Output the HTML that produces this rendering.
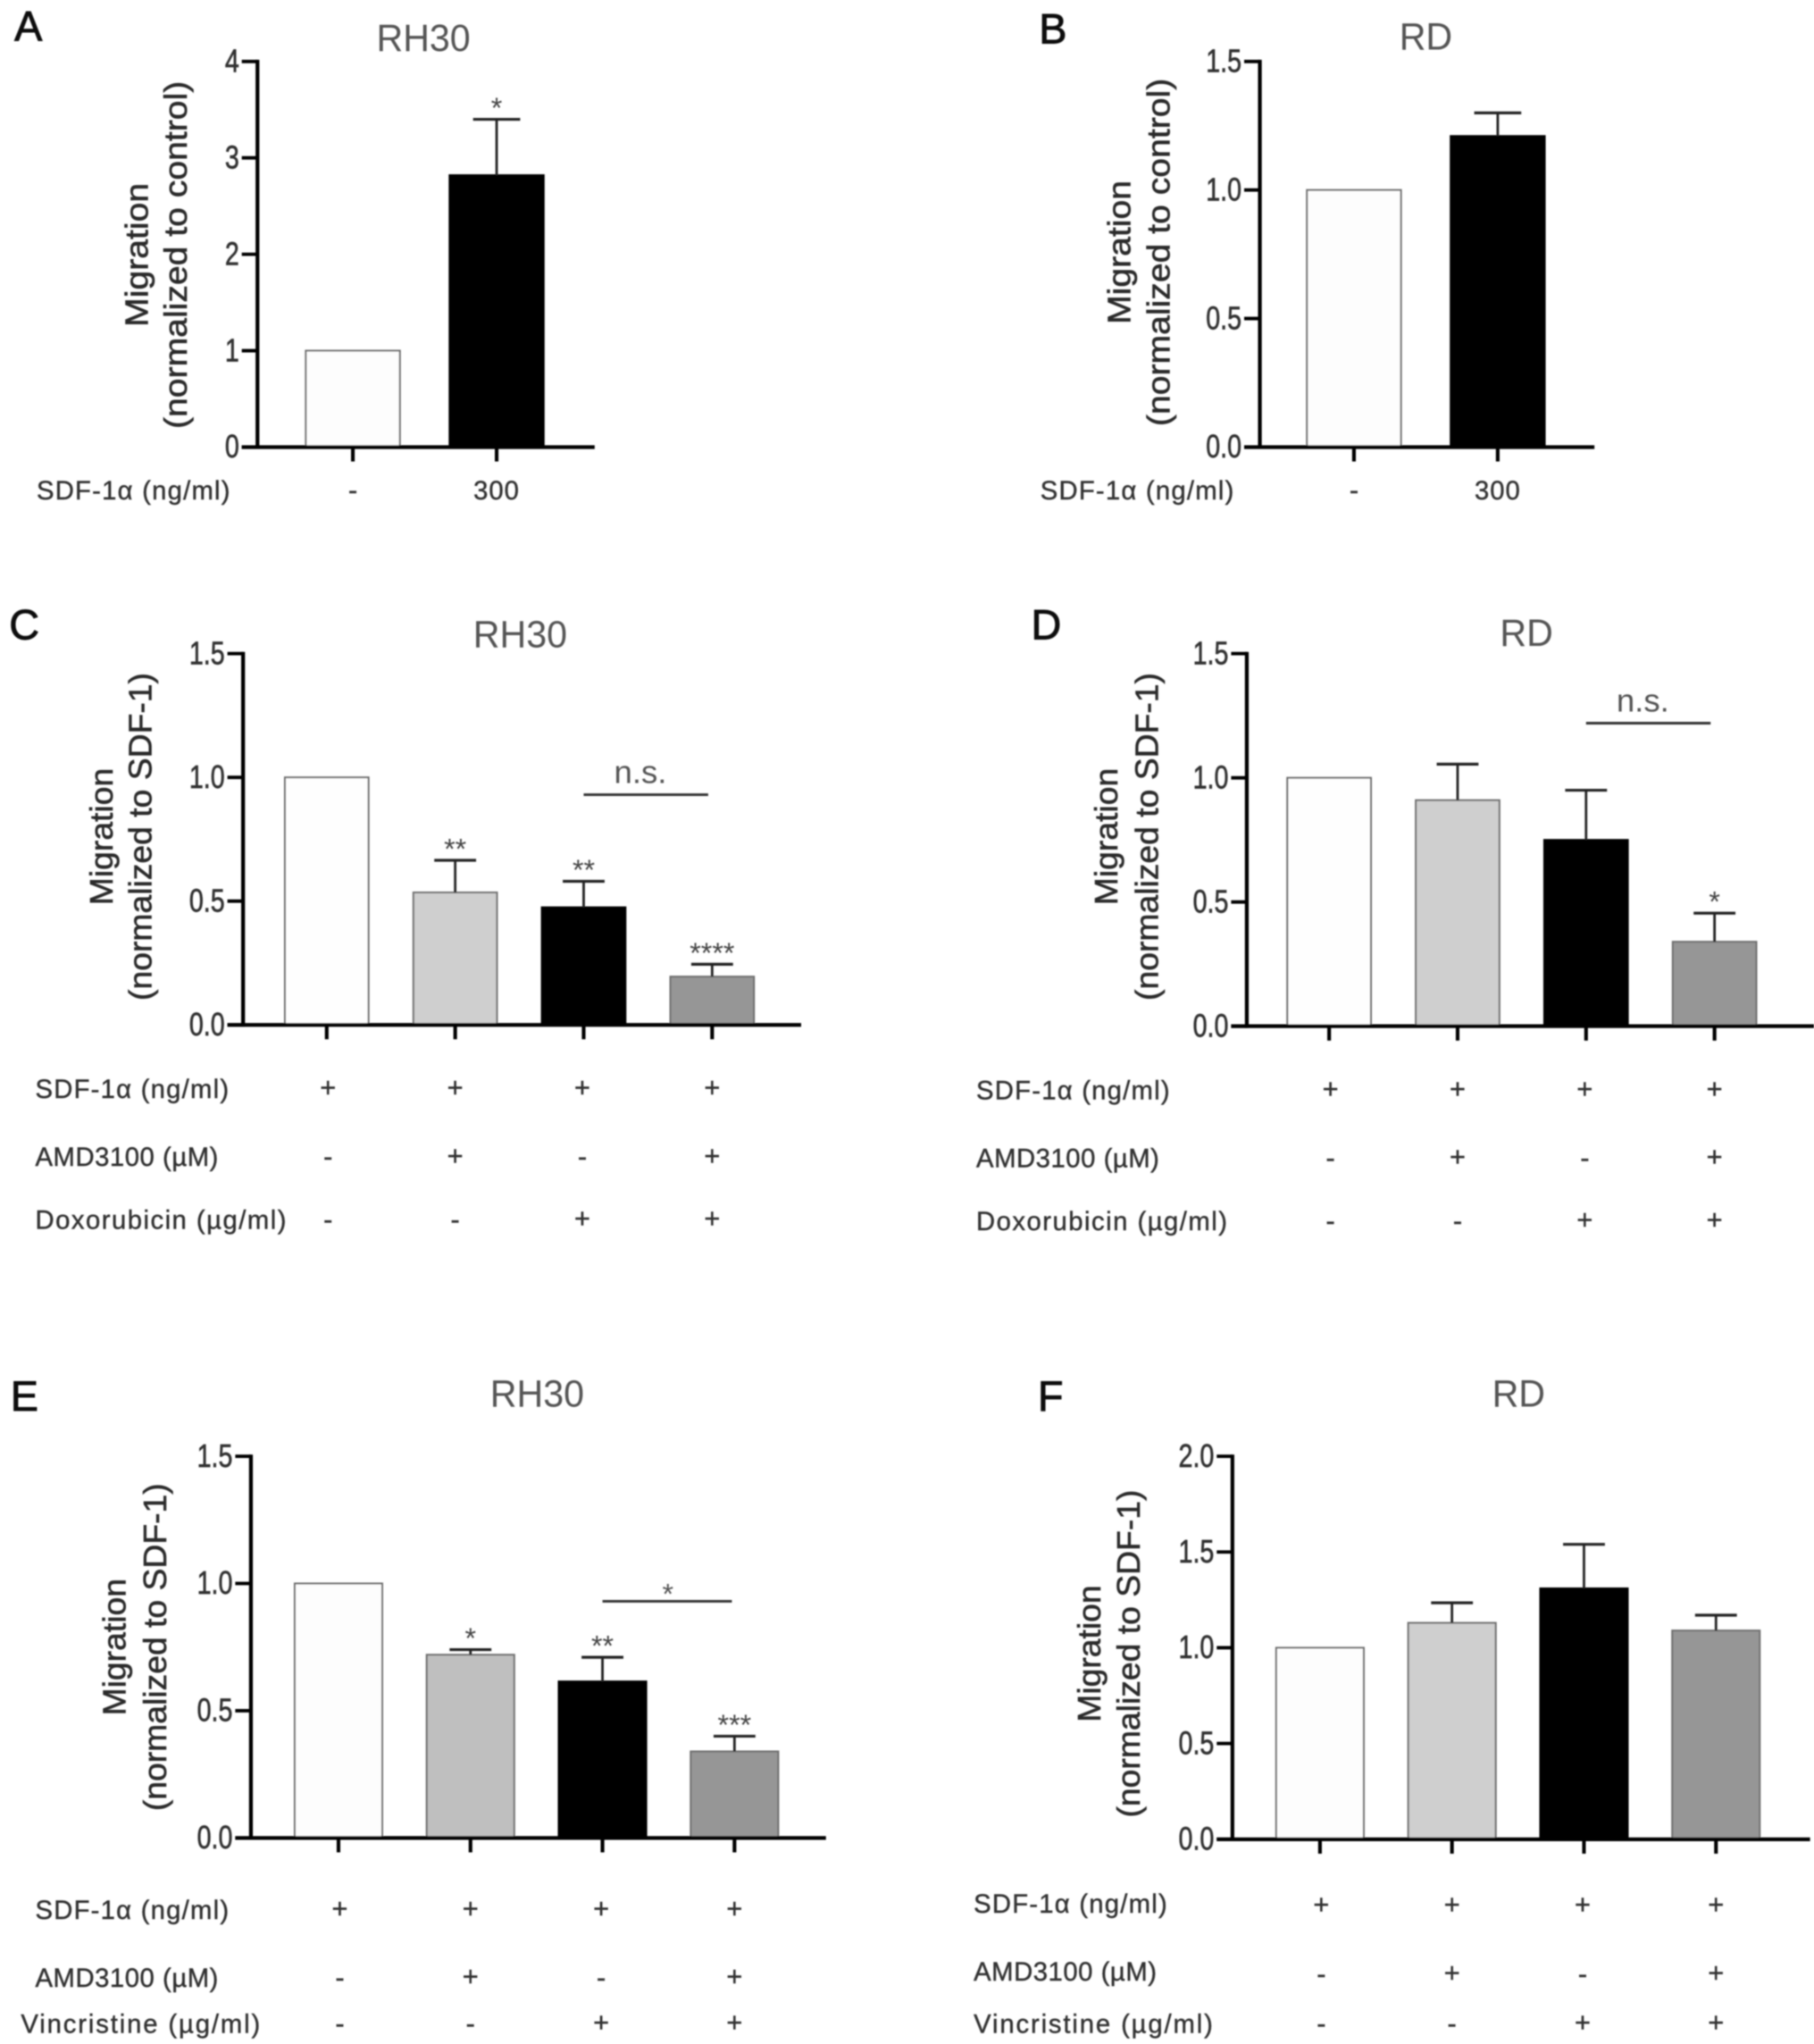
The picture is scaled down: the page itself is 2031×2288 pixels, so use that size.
<!DOCTYPE html>
<html>
<head>
<meta charset="utf-8">
<title>Migration bar charts</title>
<style>
html,body{margin:0;padding:0;background:#fff;}
svg{display:block;}
text{font-family:"Liberation Sans",sans-serif;}
</style>
</head>
<body>
<svg id="figure" xmlns="http://www.w3.org/2000/svg" width="2031" height="2288" viewBox="0 0 1388 1563.6">
<defs><filter id="soft" x="-2%" y="-2%" width="104%" height="104%"><feGaussianBlur stdDeviation="0.6"/></filter></defs>
<g id="root" filter="url(#soft)"></g>
</svg>
<script>
// ---- data ----
const panelAValues = [1, 2.82];
const panelAErrorTops = [null, 3.4];
const panelAStars = ['', '*'];
const panelATicks = ['0', '1', '2', '3', '4'];
const panelARowLabels = ['SDF-1α (ng/ml)'];
const panelARows = [['-', '300']];

const panelBValues = [1, 1.21];
const panelBErrorTops = [null, 1.30];
const panelBStars = ['', ''];
const panelBTicks = ['0.0', '0.5', '1.0', '1.5'];
const panelBRowLabels = ['SDF-1α (ng/ml)'];
const panelBRows = [['-', '300']];

const panelCValues = [1, 0.535, 0.475, 0.195];
const panelCErrorTops = [null, 0.665, 0.58, 0.245];
const panelCStars = ['', '**', '**', '****'];
const panelCTicks = ['0.0', '0.5', '1.0', '1.5'];
const panelCRowLabels = ['SDF-1α (ng/ml)', 'AMD3100 (µM)', 'Doxorubicin (µg/ml)'];
const panelCRows = [['+', '+', '+', '+'], ['-', '+', '-', '+'], ['-', '-', '+', '+']];

const panelDValues = [1, 0.91, 0.75, 0.34];
const panelDErrorTops = [null, 1.055, 0.95, 0.455];
const panelDStars = ['', '', '', '*'];
const panelDTicks = ['0.0', '0.5', '1.0', '1.5'];
const panelDRowLabels = ['SDF-1α (ng/ml)', 'AMD3100 (µM)', 'Doxorubicin (µg/ml)'];
const panelDRows = [['+', '+', '+', '+'], ['-', '+', '-', '+'], ['-', '-', '+', '+']];

const panelEValues = [1, 0.72, 0.615, 0.34];
const panelEErrorTops = [null, 0.74, 0.71, 0.40];
const panelEStars = ['', '*', '**', '***'];
const panelETicks = ['0.0', '0.5', '1.0', '1.5'];
const panelERowLabels = ['SDF-1α (ng/ml)', 'AMD3100 (µM)', 'Vincristine (µg/ml)'];
const panelERows = [['+', '+', '+', '+'], ['-', '+', '-', '+'], ['-', '-', '+', '+']];

const panelFValues = [1, 1.13, 1.31, 1.09];
const panelFErrorTops = [null, 1.235, 1.54, 1.17];
const panelFStars = ['', '', '', ''];
const panelFTicks = ['0.0', '0.5', '1.0', '1.5', '2.0'];
const panelFRowLabels = ['SDF-1α (ng/ml)', 'AMD3100 (µM)', 'Vincristine (µg/ml)'];
const panelFRows = [['+', '+', '+', '+'], ['-', '+', '-', '+'], ['-', '-', '+', '+']];

// ---- layout ----
const twoFills = ['#fdfdfd', '#000000'];
const fourFills = ['#fefefe', '#cfcfcf', '#000000', '#969696'];
const labelWidth = {'SDF-1α (ng/ml)':148, 'AMD3100 (µM)':140, 'Doxorubicin (µg/ml)':192, 'Vincristine (µg/ml)':183};
const signShift4 = [1, 0, -1, 0];
const signShift2 = [0, 0];
const panels = [
 {id:'a', letter:'A', lx:11, ly:31, title:'RH30', tx:324, ty:39, ax:197, top:47, bot:342, xEnd:455, x0:270, dx:110, bw:72, cap:18, max:4,
  values:panelAValues, errs:panelAErrorTops, stars:panelAStars, ticks:panelATicks, rowLabels:panelARowLabels, rows:panelARows, fills:twoFills,
  labelX:28, rowY:[382], t1:'Migration', t2:'(normalized to control)', b1:113, b2:143, tc:195, sx:1.07},
 {id:'b', letter:'B', lx:795, ly:33, title:'RD', tx:1091, ty:38, ax:964, top:47, bot:342, xEnd:1220, x0:1036, dx:110, bw:72, cap:18, max:1.5,
  values:panelBValues, errs:panelBErrorTops, stars:panelBStars, ticks:panelBTicks, rowLabels:panelBRowLabels, rows:panelBRows, fills:twoFills,
  labelX:796, rowY:[382], t1:'Migration', t2:'(normalized to control)', b1:865, b2:895, tc:193, sx:1.07},
 {id:'c', letter:'C', lx:7, ly:489, title:'RH30', tx:398, ty:495, ax:186, top:500, bot:784, xEnd:613, x0:250, dx:98.3, bw:64, cap:16, max:1.5,
  values:panelCValues, errs:panelCErrorTops, stars:panelCStars, ticks:panelCTicks, rowLabels:panelCRowLabels, rows:panelCRows, fills:fourFills,
  labelX:27, rowY:[840, 892, 940], t1:'Migration', t2:'(normalized to SDF-1)', b1:86, b2:116, tc:640, sx:1.02,
  bracket:{from:2, to:3, endShift:-3, value:0.93, label:'n.s.', lx:490, labelGap:9, size:25}},
 {id:'d', letter:'D', lx:789, ly:489, title:'RD', tx:1168, ty:494, ax:954, top:500, bot:785, xEnd:1388, x0:1017, dx:98.3, bw:64, cap:16, max:1.5,
  values:panelDValues, errs:panelDErrorTops, stars:panelDStars, ticks:panelDTicks, rowLabels:panelDRowLabels, rows:panelDRows, fills:fourFills,
  labelX:747, rowY:[841, 893, 941], t1:'Migration', t2:'(normalized to SDF-1)', b1:855, b2:886, tc:640, sx:1.02,
  bracket:{from:2, to:3, endShift:-3, value:1.22, label:'n.s.', lx:1257, labelGap:9, size:25}},
 {id:'e', letter:'E', lx:8, ly:1079, title:'RH30', tx:411, ty:1076, ax:192, top:1114, bot:1406, xEnd:632, x0:259, dx:101, bw:67, cap:16, max:1.5,
  values:panelEValues, errs:panelEErrorTops, stars:panelEStars, ticks:panelETicks, rowLabels:panelERowLabels, rows:panelERows, fills:['#fdfdfd', '#bfbfbf', '#000000', '#969696'],
  labelX:27, rowLabelXs:[27, 27, 16], rowY:[1468, 1520, 1555], t1:'Migration', t2:'(normalized to SDF-1)', b1:96, b2:127, tc:1260, sx:1.02,
  bracket:{from:2, to:3, endShift:-2, value:0.93, label:'*', lx:511, labelGap:-2, size:22}},
 {id:'f', letter:'F', lx:794, ly:1079, title:'RD', tx:1162, ty:1076, ax:943, top:1114, bot:1407, xEnd:1385, x0:1010, dx:101, bw:67, cap:16, max:2,
  values:panelFValues, errs:panelFErrorTops, stars:panelFStars, ticks:panelFTicks, rowLabels:panelFRowLabels, rows:panelFRows, fills:['#fdfdfd', '#cfcfcf', '#000000', '#969696'],
  labelX:745, rowLabelXs:[745, 745, 745], rowLabelYs:[1463, 1515, 1555], rowY:[1465, 1517, 1555], t1:'Migration', t2:'(normalized to SDF-1)', b1:842, b2:872, tc:1265, sx:1.02}
];

const SVGNS = 'http://www.w3.org/2000/svg';
const root = document.getElementById('root');

function mk(parent, tag, attrs, content) {
  const el = document.createElementNS(SVGNS, tag);
  for (const k in attrs) el.setAttribute(k, attrs[k]);
  if (content !== undefined) el.textContent = content;
  parent.appendChild(el);
  return el;
}

function drawPanel(p) {
  const g = mk(root, 'g', {});
  
  

  const yScale = v => p.bot - (v / p.max) * (p.bot - p.top);
  const xScale = i => p.x0 + i * p.dx;
  const shifts = p.values.length === 4 ? signShift4 : signShift2;

  const letter = mk(g, 'text', {x:p.lx, y:p.ly, 'font-size':32, fill:'#111', stroke:'#111', 'stroke-width':0.6}, p.letter);
  
  

  const title = mk(g, 'text', {'font-size':29, fill:'#555', 'text-anchor':'middle', transform:'translate(' + p.tx + ' ' + p.ty + ') scale(0.97 1)'}, p.title);
  
  

  // bars
  p.values.forEach((v, i) => {
    const cx = xScale(i);
    const y = yScale(v);
    const bar = mk(g, 'rect', {x:cx - p.bw / 2, y:y, width:p.bw, height:p.bot - y, fill:p.fills[i], stroke:p.fills[i] === '#000000' ? '#000' : '#6f6f6f', 'stroke-width':1.4});
    
    

    const et = p.errs[i];
    if (et !== null) {
      const ey = yScale(et);
      const stem = mk(g, 'line', {x1:cx, x2:cx, y1:y, y2:ey, stroke:'#222', 'stroke-width':1.9});
      
      
      const cap = mk(g, 'line', {x1:cx - p.cap, x2:cx + p.cap, y1:ey, y2:ey, stroke:'#222', 'stroke-width':2.2});
      
      
      if (p.stars[i]) {
        const star = mk(g, 'text', {x:cx, y:ey - 1, 'font-size':22, fill:'#444', 'text-anchor':'middle'}, p.stars[i]);
        
        
      }
    }
  });

  // axes
  const yAxis = mk(g, 'line', {x1:p.ax, x2:p.ax, y1:p.top - 1.3, y2:p.bot + 1.3, stroke:'#000', 'stroke-width':2.9});
  
  
  const xAxis = mk(g, 'line', {x1:p.ax - 12, x2:p.xEnd, y1:p.bot, y2:p.bot, stroke:'#000', 'stroke-width':2.9});
  
  

  p.ticks.forEach((t, i) => {
    const v = parseFloat(t);
    const y = yScale(v);
    const tick = mk(g, 'line', {x1:p.ax - 12, x2:p.ax, y1:y, y2:y, stroke:'#000', 'stroke-width':2.6});
    
    
    const lab = mk(g, 'text', {'font-size':24.5, fill:'#333', stroke:'#333', 'stroke-width':0.45, 'text-anchor':'end', transform:'translate(' + (p.ax - 14) + ' ' + (y + 8) + ') scale(0.8 1)'}, t);
    
    
  });

  p.values.forEach((v, i) => {
    const cx = xScale(i);
    const tick = mk(g, 'line', {x1:cx, x2:cx, y1:p.bot, y2:p.bot + 11, stroke:'#000', 'stroke-width':2.8});
    
    
  });

  // y-axis title
  const t1 = mk(g, 'text', {'font-size':25, fill:'#2c2c2c', stroke:'#2c2c2c', 'stroke-width':0.4, 'text-anchor':'middle', transform:'translate(' + p.b1 + ' ' + p.tc + ') rotate(-90) scale(' + p.sx + ' 1)'}, p.t1);
  
  
  const t2 = mk(g, 'text', {'font-size':25, fill:'#2c2c2c', stroke:'#2c2c2c', 'stroke-width':0.4, 'text-anchor':'middle', transform:'translate(' + p.b2 + ' ' + p.tc + ') rotate(-90) scale(' + p.sx + ' 1)'}, p.t2);
  
  

  // condition rows
  p.rowLabels.forEach((label, r) => {
    const lx = p.rowLabelXs ? p.rowLabelXs[r] : p.labelX;
    const ly = p.rowLabelYs ? p.rowLabelYs[r] : p.rowY[r];
    const lab = mk(g, 'text', {x:lx, y:ly, 'font-size':20, textLength:labelWidth[label], lengthAdjust:'spacing', fill:'#333', stroke:'#333', 'stroke-width':0.3}, label);
    
    
    p.rows[r].forEach((s, i) => {
      const sign = mk(g, 'text', {x:xScale(i) + shifts[i], y:p.rowY[r] - (s === '+' ? 1 : 0), 'font-size':s === '300' ? 20 : 21, 'letter-spacing':s === '300' ? 0.7 : 0, fill:'#333', stroke:'#333', 'stroke-width':0.3, 'text-anchor':'middle'}, s);
      
      
    });
  });

  // significance bracket
  if (p.bracket) {
    const b = p.bracket;
    const by = yScale(b.value);
    const line = mk(g, 'line', {x1:xScale(b.from), x2:xScale(b.to) + b.endShift, y1:by, y2:by, stroke:'#333', 'stroke-width':2});
    
    
    const lab = mk(g, 'text', {x:b.lx, y:by - b.labelGap, 'font-size':b.size, fill:'#555', 'text-anchor':'middle'}, b.label);
    
    
  }
}

panels.forEach(drawPanel);
</script>
</body>
</html>
